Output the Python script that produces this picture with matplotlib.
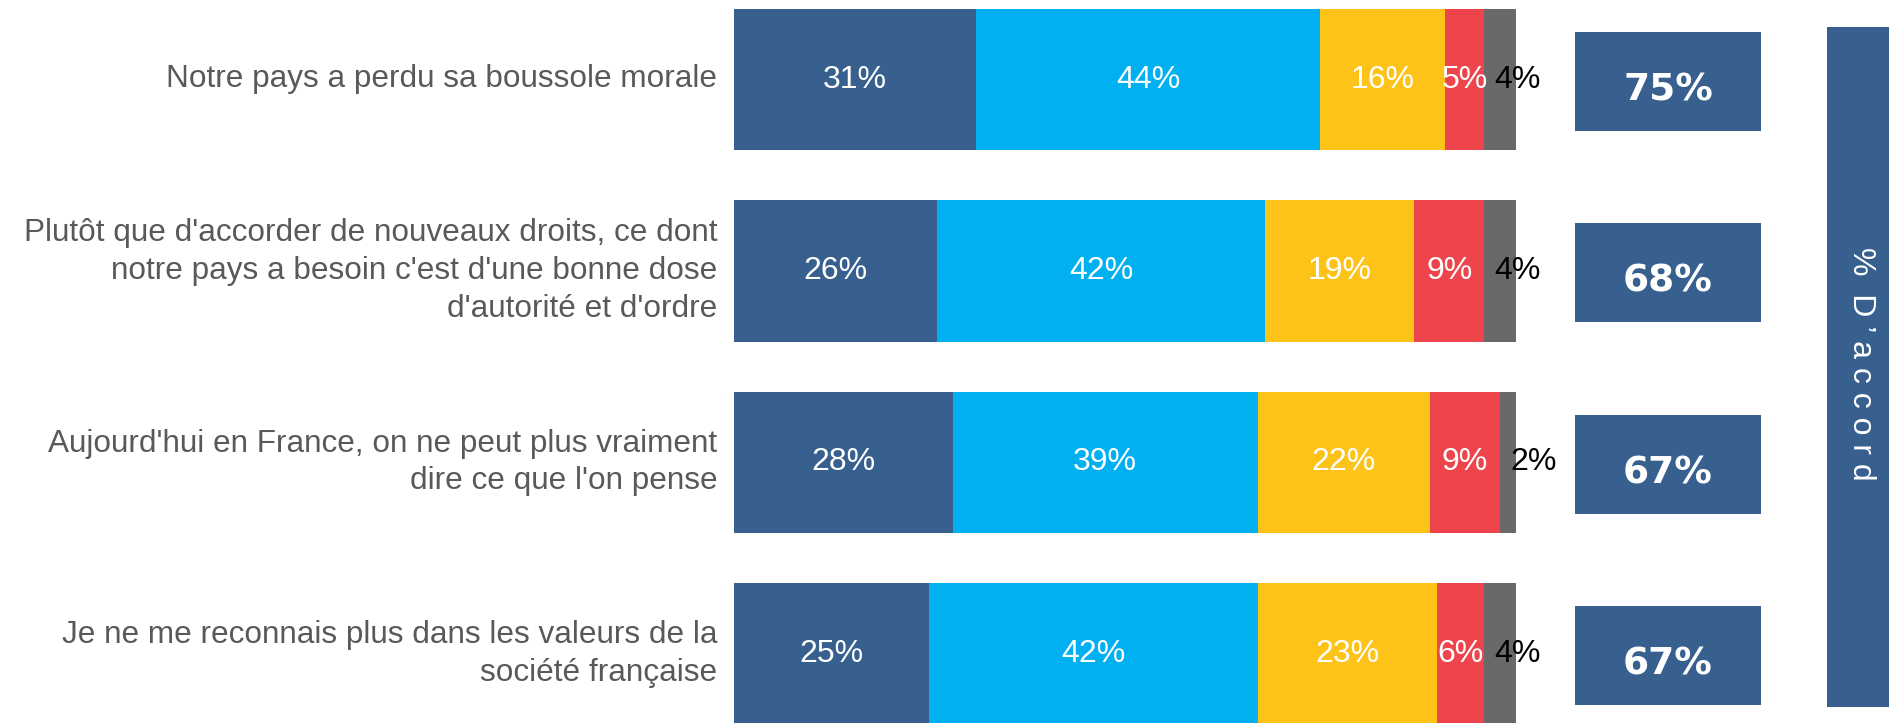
import numpy as np
import matplotlib.pyplot as plt

# statements (top to bottom) and answer shares in %
labels = [
    "Notre pays a perdu sa boussole morale",
    "Plutôt que d'accorder de nouveaux droits, ce dont\nnotre pays a besoin c'est d'une bonne dose\nd'autorité et d'ordre",
    "Aujourd'hui en France, on ne peut plus vraiment\ndire ce que l'on pense",
    "Je ne me reconnais plus dans les valeurs de la\nsociété française",
]
tout_a_fait = [31, 26, 28, 25]
plutot_oui = [44, 42, 39, 42]
plutot_non = [16, 19, 22, 23]
pas_du_tout = [5, 9, 9, 6]
nsp = [4, 4, 2, 4]

series = [tout_a_fait, plutot_oui, plutot_non, pas_du_tout, nsp]
colors = ["#37608f", "#00b0f0", "#fec319", "#ee444b", "#696969"]

W, H = 1889, 723
fig = plt.figure(figsize=(W / 100, H / 100), dpi=100)
ax = fig.add_axes([0, 0, 1, 1])

# pixel -> data mapping: 0% at x=733.7px, 100% at x=1515.6px
ppu = (1515.6 - 733.7) / 100
x0 = -733.7 / ppu
x1 = (W - 733.7) / ppu
pitch = 191.5
ax.set_xlim(x0, x1)
ax.set_ylim((H - 79.5) / pitch, -79.5 / pitch)
ax.axis("off")

y = np.arange(len(labels))
left = np.zeros(len(labels))
for k, (vals, c) in enumerate(zip(series, colors)):
    vals = np.array(vals)
    ax.barh(y, vals, left=left, height=0.74, color=c, edgecolor="none")
    for yi, l, v in zip(y, left, vals):
        if k < 4:
            ax.text(l + v / 2, yi, f"{v}%", color="white", ha="center", va="center",
                    fontsize=23, family="Liberation Sans")
        else:
            ax.text(l + 1.3, yi, f"{v}%", color="black", ha="left", va="center",
                    fontsize=23, family="Liberation Sans")
    left = left + vals

# statement labels
for yi, lab in zip(y, labels):
    ax.text(-2.1, yi, lab, ha="right", va="center", color="#595959",
            fontsize=22.7, family="Liberation Sans", linespacing=1.33)

# "% d'accord" boxes
accord = np.array(tout_a_fait) + np.array(plutot_oui)
bx0, bx1 = (1574.7 - 733.7) / ppu, (1761.4 - 733.7) / ppu
ax.barh(y + 0.01, bx1 - bx0, left=bx0, height=0.517, color="#37608f")
for yi, v in zip(y, accord):
    ax.text((bx0 + bx1) / 2, yi + 0.055, f"{v}%", color="white", ha="center",
            va="center", fontsize=27, fontweight="bold", family="DejaVu Sans")

# tall side band
tx0 = (1826.5 - 733.7) / ppu
ty0, ty1 = (26.5 - 79.5) / pitch, (707 - 79.5) / pitch
ax.bar((tx0 + x1) / 2, ty1 - ty0, bottom=ty0, width=x1 - tx0, color="#37608f", zorder=1)
ax.text((1861 - 733.7) / ppu, (364 - 79.5) / pitch, "%  D ’ a c c o r d",
        rotation=-90, color="white", ha="center", va="center", zorder=5,
        fontsize=23, family="Liberation Sans")

fig.savefig("out.png", dpi=100)
